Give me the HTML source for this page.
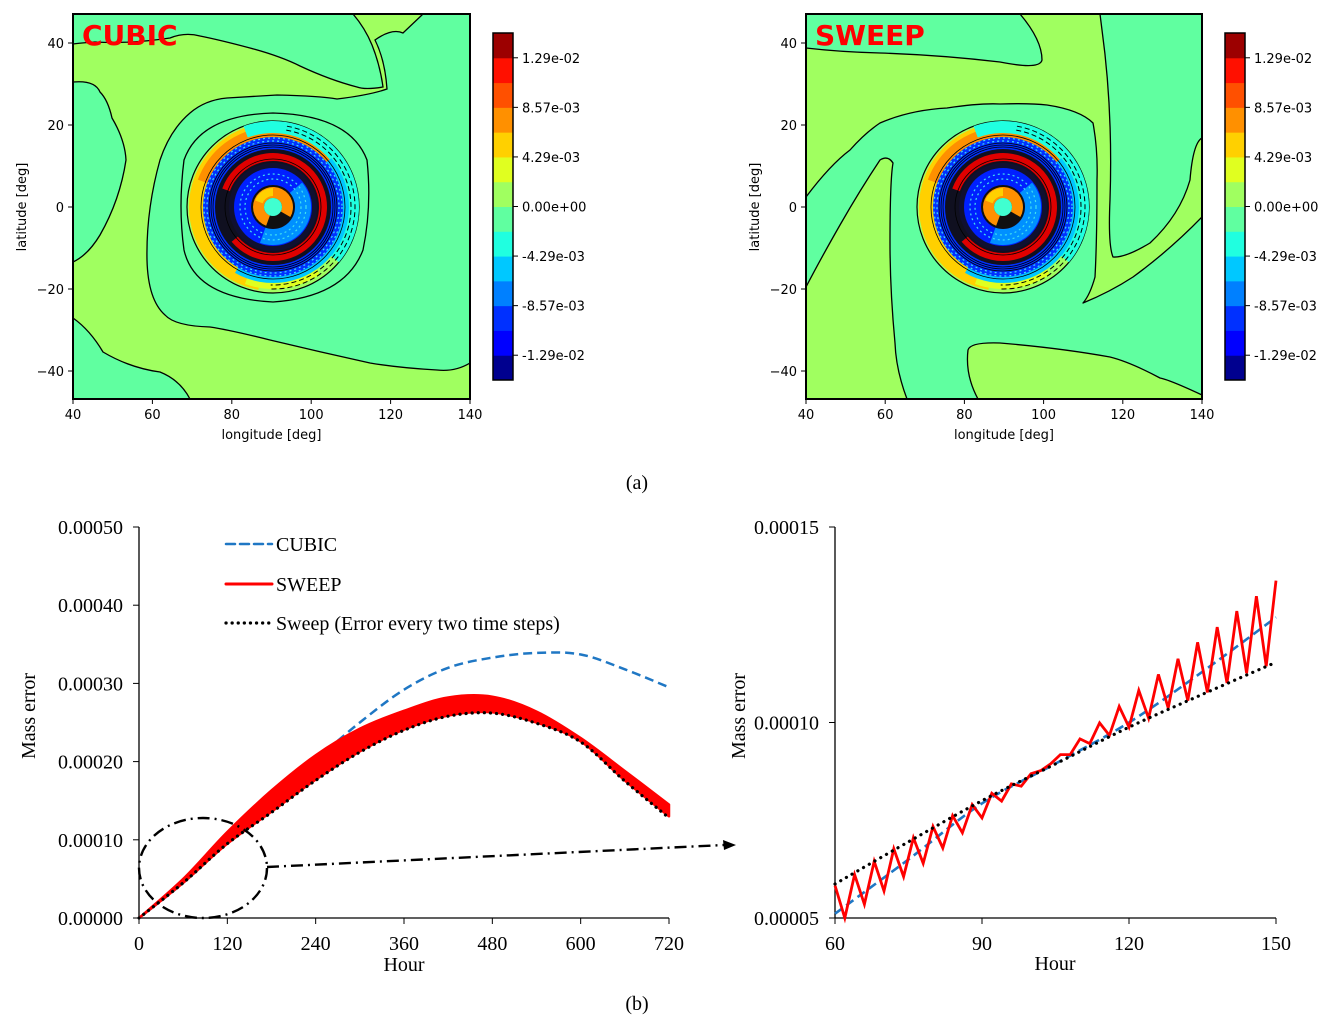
<!DOCTYPE html>
<html><head><meta charset="utf-8"><style>
html,body{margin:0;padding:0;background:#fff;}
svg{display:block;}
.m{font-family:"DejaVu Sans",sans-serif;font-size:13px;fill:#000;}
.s{font-family:"Liberation Serif",serif;font-size:20px;fill:#000;}
</style></head><body>
<svg id="fig" width="1337" height="1029" viewBox="0 0 1337 1029" xmlns="http://www.w3.org/2000/svg">
<defs>
<clipPath id="clipL"><rect x="73" y="14" width="397" height="385"/></clipPath>
<clipPath id="clipR"><rect x="806" y="14" width="396" height="385"/></clipPath>
</defs>
<g>
<g clip-path="url(#clipL)">
<rect x="73" y="14" width="397" height="385" fill="#a0ff60"/>
<g fill="#60ffa0" stroke="#000" stroke-width="1.3">
<path d="M73,14 L353,14 Q365,28 372,45 Q380,65 383,87 Q365,90 357,87 Q330,80 300,66 Q280,56 250,48 Q220,40 200,36 Q185,32 170,38 Q130,44 95,42 Q80,43 73,44 Z"/>
<path d="M73,82 Q95,80 100,92 Q108,100 112,118 Q125,140 126,160 Q120,200 100,235 Q88,255 73,262 Z"/>
<path d="M190,113 Q205,100 227,98 L277,95 Q320,96 337,99 Q370,95 387,89 Q385,60 375,40 Q392,28 403,33 L423,14 L470,14 L470,343 L470,363 Q455,372 437,370 Q400,368 370,363 Q320,352 270,340 Q230,330 210,327 Q175,326 165,315 Q148,300 147,260 Q146,210 160,160 Q170,130 190,113 Z"/>
<path d="M73,318 Q90,330 103,352 Q130,368 160,372 Q180,380 190,399 L73,399 Z"/>
</g>
<path d="M273,113 Q350,115 367,160 Q372,207 363,250 Q345,297 273,302 Q195,298 184,250 Q178,207 184,160 Q200,115 273,113 Z" fill="#60ffa0" stroke="#000" stroke-width="1.3"/>
<g id="vortexL"></g>
</g>
<rect x="73" y="14" width="397" height="385" fill="none" stroke="#000" stroke-width="2"/>
<text x="82" y="45" font-family="DejaVu Sans, sans-serif" font-weight="bold" font-size="28" fill="#ff0000">CUBIC</text>
</g>
<g>
<g clip-path="url(#clipR)">
<rect x="806" y="14" width="396" height="385" fill="#a0ff60"/>
<g fill="#60ffa0" stroke="#000" stroke-width="1.3" stroke-linejoin="round">
<path d="M806,14 L1020,14 Q1042,40 1042,60 Q1040,70 1000,62 Q940,55 880,53 Q840,52 806,48 Z"/>
<path d="M1100,14 L1202,14 L1202,138 Q1193,143 1190,180 Q1180,215 1150,243 Q1125,258 1113,257 Q1108,245 1110,200 Q1113,110 1102,30 Z"/>
<path d="M806,197 Q830,165 850,150 Q865,133 880,123 Q910,110 947,108 Q980,103 1000,104 Q1030,103 1047,105 Q1080,110 1093,123 Q1098,150 1097,180 Q1097,240 1095,277 Q1090,295 1083,303 Q1110,292 1133,277 Q1170,250 1202,217 L1202,395 Q1170,380 1160,378 Q1130,362 1110,357 Q1060,348 1000,343 Q970,342 968,350 Q965,375 978,399 L907,399 Q896,370 895,343 Q890,290 890,243 Q890,180 893,163 Q888,155 880,160 Q860,190 840,225 Q820,260 806,287 Z"/>
</g>
<g id="vortexR"></g>
</g>
<rect x="806" y="14" width="396" height="385" fill="none" stroke="#000" stroke-width="2"/>
<text x="815" y="45" font-family="DejaVu Sans, sans-serif" font-weight="bold" font-size="28" fill="#ff0000">SWEEP</text>
</g>
<g id="mapAxes"></g>
<g id="colorbars"></g>
<text x="637" y="489" class="s" font-size="22" text-anchor="middle">(a)</text>
<text x="637" y="1010" class="s" font-size="22" text-anchor="middle">(b)</text>
<g id="chartL"></g>
<g id="chartR"></g>
</svg>
<script>
var hoursL = [0,60,120,180,240,300,360,420,480,540,600,660,720];
var cubicL = [0,0.45,0.97,1.5,2.02,2.5,2.92,3.2,3.33,3.39,3.37,3.18,2.95];
var sweepHighL = [0,0.5,1.1,1.63,2.08,2.42,2.65,2.82,2.83,2.64,2.3,1.88,1.45];
var sweepLowL = [0,0.45,0.95,1.36,1.77,2.13,2.41,2.59,2.63,2.5,2.26,1.76,1.3];
var dottedL = [0,0.45,0.95,1.35,1.76,2.12,2.4,2.58,2.62,2.49,2.25,1.75,1.28];
var yTicksL = ["0.00000","0.00010","0.00020","0.00030","0.00040","0.00050"];
var xTicksL = [0,120,240,360,480,600,720];
var hoursR = [60,62,64,66,68,70,72,74,76,78,80,82,84,86,88,90,92,94,96,98,100,102,104,106,108,110,112,114,116,118,120,122,124,126,128,130,132,134,136,138,140,142,144,146,148,150];
var sweepR = [5.83,5.00,6.11,5.35,6.45,5.69,6.77,6.06,7.05,6.40,7.34,6.79,7.62,7.18,7.90,7.56,8.19,7.99,8.43,8.37,8.69,8.77,8.94,9.18,9.18,9.58,9.46,9.99,9.67,10.41,9.88,10.82,10.11,11.23,10.37,11.63,10.56,12.05,10.77,12.44,11.01,12.85,11.26,13.23,11.44,13.63];
var hoursR2 = [60,75,90,105,120,135,150];
var cubicR = [5.11,6.5,7.93,8.95,10.0,11.3,12.69];
var dottedR = [5.87,6.95,8.0,8.94,9.88,10.72,11.54];
var yTicksR = ["0.00005","0.00010","0.00015"];
var xTicksR = [60,90,120,150];
var cbColors = ["#00008f","#0000ff","#0030ff","#0080ff","#00c8ff","#20ffe0","#60ffa0","#a0ff60","#e0ff20","#ffd000","#ff9000","#ff5000","#ff1000","#9c0000"];
var cbLabels = ["-1.29e-02","-8.57e-03","-4.29e-03","0.00e+00","4.29e-03","8.57e-03","1.29e-02"];
var latTicks = [-40,-20,0,20,40];
var lonTicks = [40,60,80,100,120,140];

var NS="http://www.w3.org/2000/svg";
function mk(parent,tag,attrs,text){var e=document.createElementNS(NS,tag);for(var k in attrs)e.setAttribute(k,attrs[k]);if(text!==undefined)e.textContent=text;parent.appendChild(e);return e;}

var mapAxes=document.getElementById('mapAxes');
[[73,470],[806,1202]].forEach(function(p){
  var x0=p[0],x1=p[1];
  var lonX=function(l){return x0+(l-40)*(x1-x0)/100;};
  var latY=function(l){return 207-l*4.1;};
  lonTicks.forEach(function(l){
    var t=mk(mapAxes,'line',{x1:lonX(l),x2:lonX(l),y1:399,y2:404,stroke:'#000'});
    
    
    var tx=mk(mapAxes,'text',{x:lonX(l),y:419,'text-anchor':'middle','class':'m'},String(l));
    
    
  });
  latTicks.forEach(function(l){
    var t=mk(mapAxes,'line',{x1:x0-5,x2:x0,y1:latY(l),y2:latY(l),stroke:'#000'});
    
    
    var tx=mk(mapAxes,'text',{x:x0-9,y:latY(l)+5,'text-anchor':'end','class':'m'},(l<0?'\u2212'+(-l):String(l)));
    
    
  });
  var xl=mk(mapAxes,'text',{x:(x0+x1)/2,y:439,'text-anchor':'middle','class':'m'},'longitude [deg]');
  
  
  var yl=mk(mapAxes,'text',{x:0,y:0,'text-anchor':'middle','class':'m',transform:'translate('+(x0-47)+',207) rotate(-90)'},'latitude [deg]');
  
  
});

var cbs=document.getElementById('colorbars');
[493,1225].forEach(function(cx){
  var g=mk(cbs,'g',{});
  
  
  var top=33,bot=380,h=(bot-top)/cbColors.length;
  cbColors.forEach(function(c,i){
    var r=mk(g,'rect',{x:cx,y:bot-(i+1)*h,width:20,height:h+0.5,fill:c});
    
    
  });
  mk(g,'rect',{x:cx,y:top,width:20,height:bot-top,fill:'none',stroke:'#000','stroke-width':1.5});
  cbLabels.forEach(function(lb,i){
    var y=bot-(i*2+1)*h;
    var t=mk(g,'line',{x1:cx+20,x2:cx+25,y1:y,y2:y,stroke:'#000'});
    
    
    var tx=mk(g,'text',{x:cx+29,y:y+5,'class':'m'},lb);
    
    
  });
});

function arc(g,r1,r2,a0,a1,fill){
  var rad=Math.PI/180;
  var p=function(r,a){return [r*Math.cos(a*rad),r*Math.sin(a*rad)];};
  var A=p(r2,a0),B=p(r2,a1),C=p(r1,a1),D=p(r1,a0);
  var large=(a1-a0)>180?1:0;
  return mk(g,'path',{d:'M'+A+' A'+r2+','+r2+' 0 '+large+' 1 '+B+' L'+C+' A'+r1+','+r1+' 0 '+large+' 0 '+D+' Z',fill:fill});
}
function drawVortex(id,cx,cy){
  var g=mk(document.getElementById(id),'g',{transform:'translate('+cx+','+cy+')'});
  mk(g,'circle',{r:86,fill:'#a0ff60',stroke:'#000','stroke-width':1.2});
  arc(g,70,84,100,260,'#ffd000');
  arc(g,72,82,55,110,'#e0ff20');
  arc(g,68,80,200,330,'#ff9000');
  arc(g,74,86,250,400,'#20ffe0');
  arc(g,64,76,320,480,'#00c8ff');
  mk(g,'circle',{r:70,fill:'#0030ff'});
  mk(g,'circle',{r:58,fill:'#101020'});
  arc(g,46,54,200,500,'#e00000');
  mk(g,'circle',{r:44,fill:'#101030'});
  mk(g,'circle',{r:39,fill:'#0020ff'});
  arc(g,22,38,320,470,'#0090ff');
  mk(g,'circle',{r:22,fill:'#101010'});
  arc(g,9,20,110,390,'#ff9000');
  arc(g,11,19,200,270,'#ffd000');
  mk(g,'circle',{r:9,fill:'#40ffd0'});
  [60,62,64,48,72].forEach(function(r){mk(g,'circle',{r:r,fill:'none',stroke:'#000','stroke-width':0.8});});
  [66,69,28,33].forEach(function(r){mk(g,'circle',{r:r,fill:'none',stroke:'#40e0f0','stroke-width':1.2,'stroke-dasharray':'2,3'});});
  [78,82].forEach(function(r){mk(g,'path',{d:'M'+(r*Math.cos(-1.4))+','+(r*Math.sin(-1.4))+' A'+r+','+r+' 0 0 1 '+(r*Math.cos(1.6))+','+(r*Math.sin(1.6)),fill:'none',stroke:'#000','stroke-width':1,'stroke-dasharray':'5,3'});});
}
drawVortex('vortexL',273,207);
drawVortex('vortexR',1003,207);

function axisChart(gid,o){
  var g=document.getElementById(gid);
  mk(g,'line',{x1:o.x0,x2:o.x0,y1:527,y2:918,stroke:'#000','stroke-width':1.3});
  mk(g,'line',{x1:o.x0,x2:o.x1,y1:918,y2:918,stroke:'#000','stroke-width':1.3});
  o.yt.forEach(function(lb,i){
    var y=918-i*(391/(o.yt.length-1));
    var t=mk(g,'line',{x1:o.x0-6,x2:o.x0,y1:y,y2:y,stroke:'#000'});
    
    
    var tx=mk(g,'text',{x:o.x0-16,y:y+7,'text-anchor':'end','class':'s'},lb);
    
    
  });
  o.xt.forEach(function(v){
    var x=o.xs(v);
    var t=mk(g,'line',{x1:x,x2:x,y1:918,y2:924,stroke:'#000'});
    
    
    var tx=mk(g,'text',{x:x,y:950,'text-anchor':'middle','class':'s'},String(v));
    
    
  });
  var xt=mk(g,'text',{x:o.hx,y:o.hy,'text-anchor':'middle','class':'s'},'Hour');
  
  
  var yt=mk(g,'text',{x:0,y:0,'text-anchor':'middle','class':'s',transform:'translate('+o.mx+',716) rotate(-90)'},'Mass error');
  
  
  return g;
}
function pts(xs,ys,fx,fy){return xs.map(function(h,i){return fx(h).toFixed(1)+','+fy(ys[i]).toFixed(1);}).join(' ');}
function smooth(xs,ys,fx,fy,cont){
  var P=xs.map(function(h,i){return [fx(h),fy(ys[i])];});
  var d=(cont?'L':'M')+P[0][0].toFixed(1)+','+P[0][1].toFixed(1);
  for(var i=0;i<P.length-1;i++){
    var p0=P[Math.max(0,i-1)],p1=P[i],p2=P[i+1],p3=P[Math.min(P.length-1,i+2)];
    var c1=[p1[0]+(p2[0]-p0[0])/6,p1[1]+(p2[1]-p0[1])/6];
    var c2=[p2[0]-(p3[0]-p1[0])/6,p2[1]-(p3[1]-p1[1])/6];
    d+=' C'+c1[0].toFixed(1)+','+c1[1].toFixed(1)+' '+c2[0].toFixed(1)+','+c2[1].toFixed(1)+' '+p2[0].toFixed(1)+','+p2[1].toFixed(1);
  }
  return d;
}

var xL=function(h){return 139+h*530/720;};
var yL=function(v){return 918-v*78.2;};
var gL=axisChart('chartL',{x0:139,x1:669,yt:yTicksL,xt:xTicksL,xs:xL,hx:404,hy:971,mx:35});
var cub=mk(gL,'path',{d:smooth(hoursL,cubicL,xL,yL),fill:'none',stroke:'#1f77c4','stroke-width':2.5,'stroke-dasharray':'9,5'});


var band=mk(gL,'path',{d:smooth(hoursL,sweepHighL,xL,yL)+' '+smooth(hoursL.slice().reverse(),sweepLowL.slice().reverse(),xL,yL,true)+' Z',fill:'#ff0000',stroke:'#ff0000','stroke-width':2.5,'stroke-linejoin':'round'});


var dot=mk(gL,'path',{d:smooth(hoursL,dottedL,xL,yL),fill:'none',stroke:'#000','stroke-width':3.2,'stroke-dasharray':'0.1,6','stroke-linecap':'round'});


var el=mk(gL,'ellipse',{cx:203,cy:868,rx:64,ry:50,fill:'none',stroke:'#000','stroke-width':2.4,'stroke-dasharray':'12,5,2,5'});


var ar=mk(gL,'line',{x1:267,y1:867,x2:724,y2:845,stroke:'#000','stroke-width':2.4,'stroke-dasharray':'12,5,2,5'});


var ah=mk(gL,'polygon',{points:'736,845 723,840 724,850',fill:'#000'});


var leg=[['CUBIC',544,'#1f77c4','9,5',2.5],['SWEEP',584,'#ff0000','',3],['Sweep (Error every two time steps)',623,'#000','0.1,6',3.2]];
leg.forEach(function(l){
  var g=mk(gL,'g',{});
  
  
  var a={x1:226,x2:272,y1:l[1],y2:l[1],stroke:l[2],'stroke-width':l[4],'stroke-linecap':'round'};
  if(l[3])a['stroke-dasharray']=l[3];
  mk(g,'line',a);
  mk(g,'text',{x:276,y:l[1]+7,'class':'s','font-size':'20.5'},l[0]);
});

var xR=function(h){return 835+(h-60)*4.9;};
var yR=function(v){return 918-(v-5)*39.1;};
var gR=axisChart('chartR',{x0:835,x1:1276,yt:yTicksR,xt:xTicksR,xs:xR,hx:1055,hy:970,mx:745});
var cubR=mk(gR,'path',{d:smooth(hoursR2,cubicR,xR,yR),fill:'none',stroke:'#1f77c4','stroke-width':2.6,'stroke-dasharray':'9,5'});


var swR=mk(gR,'polyline',{points:pts(hoursR,sweepR,xR,yR),fill:'none',stroke:'#ff0000','stroke-width':2.8,'stroke-linejoin':'miter'});


var dotR=mk(gR,'path',{d:smooth(hoursR2,dottedR,xR,yR),fill:'none',stroke:'#000','stroke-width':3.2,'stroke-dasharray':'0.1,6.5','stroke-linecap':'round'});


</script>
</body></html>
